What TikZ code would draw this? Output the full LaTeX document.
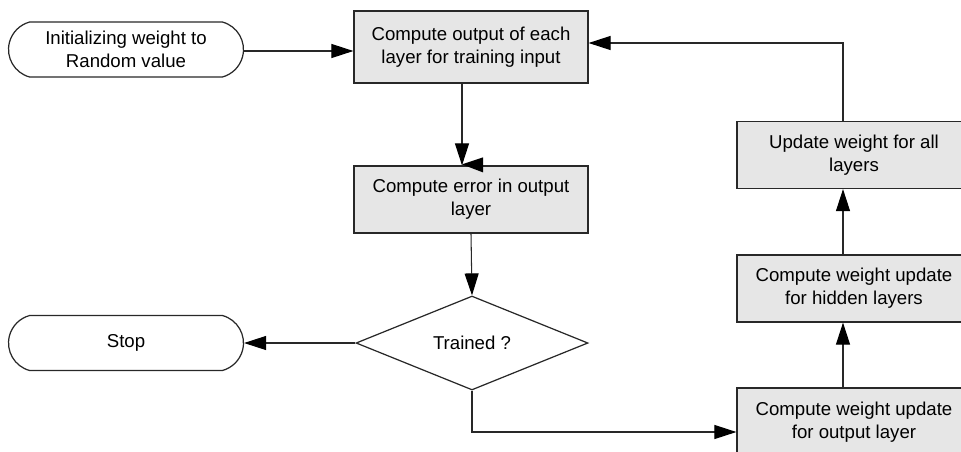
\documentclass[tikz,border=0pt]{standalone}
\usepackage{fontspec}
\setmainfont{Liberation Sans}
\usetikzlibrary{arrows.meta,shapes.misc,shapes.geometric}

\definecolor{boxgray}{RGB}{230,230,230}
\definecolor{linegray}{RGB}{40,40,40}

\tikzset{
	base/.style={draw=linegray, line width=0.7pt, text=black, align=center,
		font=\fontsize{10.6}{13.1}\selectfont, inner sep=0pt},
	terminal/.style={base, rounded rectangle, rounded rectangle arc length=150,
		minimum width=4.7cm, minimum height=1.1cm},
	process/.style={base, rectangle, fill=boxgray, minimum width=4.68cm, minimum height=1.34cm},
	decision/.style={base, diamond, minimum width=4.64cm, minimum height=1.88cm},
	link/.style={->, draw=linegray, line width=0.6pt},
}

\begin{document}
\begin{tikzpicture}[x=0.02cm, y=-0.02cm, >={Triangle[length=4.4mm,width=2.8mm,color=black]}]

\useasboundingbox (0,0) rectangle (961,451);
\clip (0,0) rectangle (961,451);

% left column
\node[terminal] (init) at (126,49.5) {Initializing weight to\\Random value};
\node[process, minimum height=1.44cm] (fwd) at (471,47) {Compute output of each\\layer for training input};
\node[process] (err) at (471,199.5) {Compute error in output\\layer};
\node[decision] (trained) at (472,343) {Trained ?};
\node[terminal] (stop) at (126,343) {Stop};

% right column
\node[process] (upd) at (854,155) {Update weight for all\\layers};
\node[process] (hid) at (854,288.5) {Compute weight update\\for hidden layers};
\node[process, minimum height=1.36cm] (outw) at (854,422) {Compute weight update\\for output layer};

% connectors
\draw[link] ([yshift=-0.03cm]init.east) -- ([yshift=-0.03cm]init.east -| fwd.west);
\draw[link] ([xshift=-0.18cm]fwd.south) -- ([xshift=-0.18cm]err.north);
\fill[black] ([xshift=-0.18cm,yshift=0.02cm]err.north) -- ++(0.42cm,0.14cm) -- ++(0,-0.3cm) -- cycle;
\draw[link] (err.south) -- (trained.north);
\draw[link] (trained.west) -- (stop.east);

\coordinate (turn) at ([yshift=-0.2cm]outw.west);
\draw[link] (trained.south) |- (turn);
\draw[link] ([xshift=-0.22cm]outw.north) -- ([xshift=-0.22cm]hid.south);
\draw[link] ([xshift=-0.22cm]hid.north) -- ([xshift=-0.22cm]upd.south);

\coordinate (back) at ([yshift=0.08cm]fwd.east);
\draw[link] ([xshift=-0.22cm]upd.north) |- (back);

\end{tikzpicture}
\end{document}
